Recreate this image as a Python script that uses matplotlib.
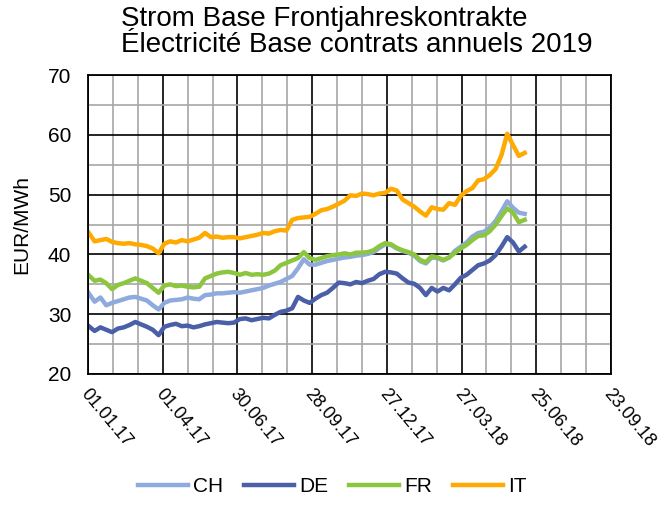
import matplotlib
matplotlib.use("Agg")
import matplotlib.pyplot as plt
import matplotlib.dates as mdates
import matplotlib.transforms as mtransforms
import pandas as pd

plt.rcParams['font.family'] = ['Liberation Sans', 'DejaVu Sans']

# weekly settlement values, EUR/MWh
dates = pd.date_range('2017-01-02', periods=76, freq='7D')

ch = [33.5, 32.1, 32.8, 31.5, 31.9, 32.2, 32.5, 32.8, 32.9, 32.6,
      32.3, 31.5, 30.8, 31.9, 32.3, 32.4, 32.5, 32.8, 32.6, 32.5,
      33.2, 33.3, 33.5, 33.5, 33.6, 33.7, 33.6, 33.8, 34.0, 34.2,
      34.4, 34.8, 35.1, 35.4, 35.9, 36.4, 37.7, 39.2, 38.3, 38.3,
      38.6, 38.9, 39.1, 39.3, 39.5, 39.6, 39.8, 39.9, 40.1, 40.4,
      41.1, 41.7, 41.6, 41.0, 40.6, 40.3, 39.8, 38.9, 38.5, 39.5,
      39.4, 39.0, 39.5, 40.6, 41.3, 42.0, 43.0, 43.6, 43.8, 44.5,
      45.6, 47.2, 48.9, 47.8, 47.0, 46.8]

de = [28.0, 27.2, 27.8, 27.4, 27.0, 27.6, 27.8, 28.2, 28.7, 28.3,
      27.9, 27.4, 26.5, 27.9, 28.2, 28.4, 28.0, 28.1, 27.8, 28.0,
      28.3, 28.5, 28.7, 28.6, 28.5, 28.6, 29.2, 29.3, 29.0, 29.2,
      29.4, 29.3, 29.9, 30.4, 30.6, 31.0, 32.9, 32.3, 31.9, 32.6,
      33.2, 33.6, 34.4, 35.3, 35.2, 35.0, 35.4, 35.2, 35.6, 35.9,
      36.7, 37.1, 37.0, 36.8, 36.0, 35.3, 35.1, 34.4, 33.2, 34.4,
      33.8, 34.4, 34.0, 35.0, 36.1, 36.6, 37.4, 38.2, 38.5, 39.0,
      39.9, 41.3, 42.9, 42.0, 40.5, 41.3]

fr = [36.5, 35.6, 35.8, 35.2, 34.2, 34.9, 35.2, 35.6, 36.0, 35.6,
      35.2, 34.4, 33.6, 34.8, 35.0, 34.7, 34.8, 34.6, 34.5, 34.6,
      36.0, 36.4, 36.8, 37.0, 37.1, 36.9, 36.6, 36.9, 36.6, 36.7,
      36.6, 36.8, 37.3, 38.2, 38.6, 39.0, 39.4, 40.4, 39.4, 39.1,
      39.4, 39.7, 39.9, 40.0, 40.2, 40.0, 40.3, 40.3, 40.4, 40.7,
      41.4, 41.9, 41.7, 41.1, 40.7, 40.4, 40.0, 39.1, 38.7, 39.7,
      39.5, 39.1, 39.5, 40.3, 41.0, 41.6, 42.4, 43.1, 43.2, 43.9,
      45.0, 46.4, 47.7, 47.0, 45.4, 45.8]

it = [43.6, 42.2, 42.4, 42.6, 42.1, 41.9, 41.8, 41.9, 41.7, 41.6,
      41.4, 41.0, 40.2, 41.8, 42.2, 42.0, 42.4, 42.2, 42.5, 42.8,
      43.6, 42.9, 43.0, 42.8, 42.9, 42.9, 42.7, 42.9, 43.1, 43.3,
      43.6, 43.5, 43.9, 44.1, 44.0, 45.8, 46.1, 46.2, 46.3, 46.8,
      47.4, 47.6, 48.0, 48.5, 49.0, 49.9, 49.8, 50.2, 50.1, 49.9,
      50.2, 50.3, 51.0, 50.7, 49.2, 48.6, 48.0, 47.2, 46.5, 47.9,
      47.6, 47.5, 48.6, 48.3, 49.8, 50.6, 51.1, 52.4, 52.6, 53.3,
      54.3, 56.6, 60.2, 58.3, 56.5, 57.0]

fig = plt.figure(figsize=(6.65, 5.26), dpi=100)
ax = fig.add_axes([0.1323, 0.289, 0.7865, 0.568])

ax.plot(dates, ch, color='#8FAADC', lw=3.2, label='CH')
ax.plot(dates, de, color='#4A5FA8', lw=3.2, label='DE')
ax.plot(dates, fr, color='#8CC63F', lw=3.2, label='FR')
ax.plot(dates, it, color='#FFAA00', lw=3.2, label='IT')

ax.set_ylim(20, 70)
ax.set_yticks(range(20, 71, 10))
ax.set_yticks(range(20, 71, 5), minor=True)
ax.set_xlim(pd.Timestamp('2017-01-01'), pd.Timestamp('2018-09-23'))
ax.set_xticks(pd.date_range('2017-01-01', periods=8, freq='90D'))
ax.set_xticks(pd.date_range('2017-01-01', periods=22, freq='30D'), minor=True)
ax.xaxis.set_major_formatter(mdates.DateFormatter('%d.%m.%y'))

ax.grid(which='minor', color='#A6A6A6', lw=1.2)
ax.grid(which='major', color='black', lw=1.2)
ax.set_axisbelow(True)
for s in ax.spines.values():
    s.set_color('black')
    s.set_linewidth(1.3)

ax.tick_params(which='both', length=0, labelsize=15)
ax.tick_params(axis='y', pad=12)
ax.tick_params(axis='x', pad=12, labelsize=13)
shift = mtransforms.ScaledTranslation(-3 / 72, 0, fig.dpi_scale_trans)
for lbl in ax.get_xticklabels():
    lbl.set_rotation(-50)
    lbl.set_ha('left')
    lbl.set_va('center')
    lbl.set_rotation_mode('anchor')
    lbl.set_transform(lbl.get_transform() + shift)

ax.set_ylabel('EUR/MWh', fontsize=15, labelpad=12)

fig.text(121 / 665, 1 - 6 / 526,
         'Strom Base Frontjahreskontrakte\nÉlectricité Base contrats annuels 2019',
         ha='left', va='top', fontsize=20, linespacing=1.0)

fig.legend(loc='center', bbox_to_anchor=(0.5, 1 - 487 / 526), ncol=4,
           frameon=False, fontsize=15, handlelength=2.4,
           handletextpad=0.25, columnspacing=1.0)

fig.savefig('out.png', dpi=100)
